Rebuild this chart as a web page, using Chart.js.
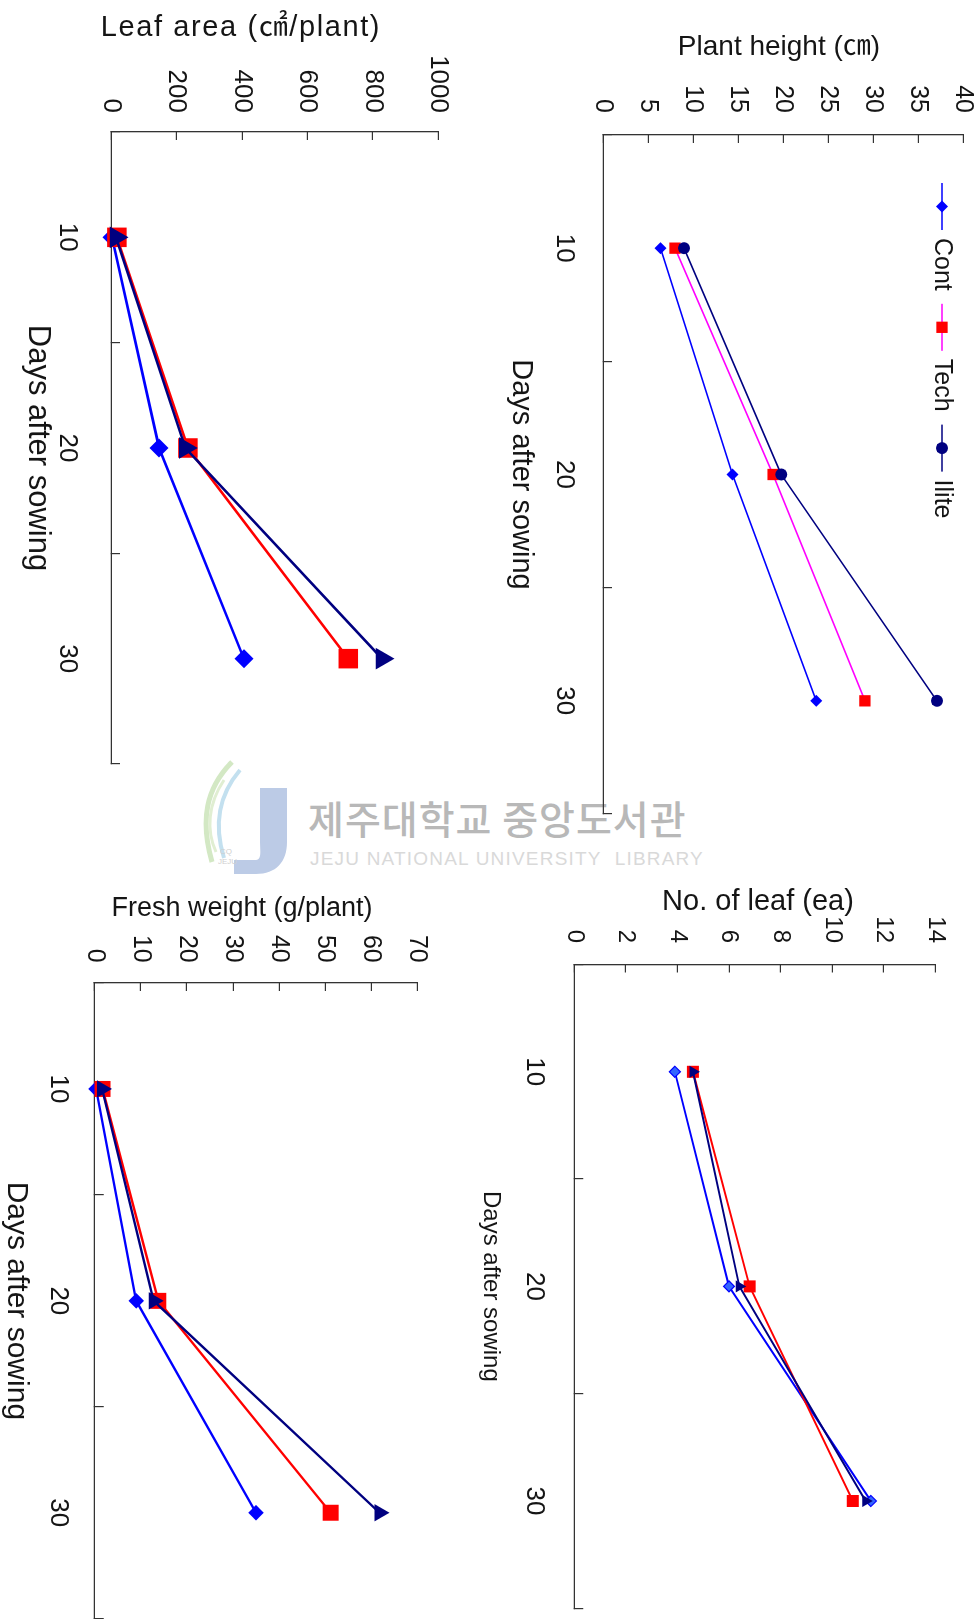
<!DOCTYPE html>
<html lang="en">
<head>
<meta charset="utf-8">
<title>Seedling growth by treatment</title>
<script src="https://cdn.jsdelivr.net/npm/chart.js@4.4.1/dist/chart.umd.min.js"></script>
<style>
  html, body { margin: 0; padding: 0; background: #fff; }
  body { position: relative; width: 980px; height: 1619px; overflow: hidden; }
  .panel { position: absolute; transform-origin: 0 0; z-index: 2; }
  .panel canvas { display: block; }
  .caption { position: absolute; z-index: 3; white-space: nowrap; transform: translate(-50%, -50%);
             font-family: 'Liberation Sans', Arial, 'Noto Sans CJK KR', sans-serif; color: #151515; line-height: 1; }
  .wm { position: absolute; z-index: 1; white-space: nowrap; line-height: 1; }
</style>
</head>
<body>

<!-- library watermark -->
<svg class="wm" style="left:198px;top:758px" width="95" height="122" viewBox="0 0 95 122">
  <path d="M34 4 C 8 30, 2 62, 14 104" stroke="#d3e8c4" stroke-width="5" fill="none"/>
  <path d="M42 12 C 20 38, 16 68, 26 100" stroke="#c3e0ef" stroke-width="4" fill="none"/>
  <path d="M26 22 C 10 46, 8 72, 18 94" stroke="#e0eed2" stroke-width="3" fill="none"/>
  <path d="M62 30 H 89 V 84 C 89 104 78 116 58 116 H 36 V 102 H 58 C 64 102 62 92 62 84 Z" fill="#bccbe6"/>
  <text x="22" y="96" font-size="8" fill="#cfcfcf" font-family="Liberation Sans">CQ</text>
  <text x="20" y="106" font-size="8" fill="#cfcfcf" font-family="Liberation Sans">JEJU</text>
</svg>
<div class="wm" style="left:308px;top:798px;font-family:'Noto Sans CJK KR',sans-serif;font-size:39px;font-weight:500;color:#b8b8b8;letter-spacing:1px">제주대학교 중앙도서관</div>
<div class="wm" style="left:310px;top:849px;font-family:'Liberation Sans',Arial,sans-serif;font-size:19px;color:#d9d9d9;letter-spacing:1.2px">JEJU NATIONAL UNIVERSITY&nbsp;&nbsp;LIBRARY</div>

<!-- value-axis captions (horizontal on the page) -->
<div class="caption" style="left:779px;top:46px;font-size:28px">Plant height (㎝)</div>
<div class="caption" style="left:241px;top:26px;font-size:29px;letter-spacing:1.6px">Leaf area (㎠/plant)</div>
<div class="caption" style="left:758px;top:900px;font-size:29px">No. of leaf (ea)</div>
<div class="caption" style="left:242px;top:907px;font-size:27px">Fresh weight (g/plant)</div>

<!-- each panel is laid out as an ordinary line chart, then turned a quarter turn clockwise -->
<div class="panel" style="left:480px;top:0;width:830px;height:500px;transform:translate(500px,0) rotate(90deg)">
  <canvas id="c-height" width="830" height="500"></canvas>
</div>
<div class="panel" style="left:0;top:0;width:780px;height:460px;transform:translate(460px,0) rotate(90deg)">
  <canvas id="c-area" width="780" height="460"></canvas>
</div>
<div class="panel" style="left:440px;top:830px;width:789px;height:540px;transform:translate(540px,0) rotate(90deg)">
  <canvas id="c-leaves" width="789" height="540"></canvas>
</div>
<div class="panel" style="left:0;top:860px;width:770px;height:440px;transform:translate(440px,0) rotate(90deg)">
  <canvas id="c-fresh" width="770" height="440"></canvas>
</div>

<script>
// ---- data ----
const days = ['10', '20', '30'];
const seriesNames = ['Cont', 'Tech', 'Ilite'];

const heightCont  = [6.4, 14.4, 23.7];
const heightTech  = [8.0, 18.9, 29.1];
const heightIlite = [9.0, 19.8, 37.1];

const leafNoCont  = [3.9, 6.0, 11.5];
const leafNoTech  = [4.6, 6.8, 10.8];
const leafNoIlite = [4.6, 6.4, 11.3];

const leafAreaCont  = [3, 147, 406];
const leafAreaTech  = [18, 235, 725];
const leafAreaIlite = [15, 227, 828];

const freshCont  = [0.3, 9.0, 35.0];
const freshTech  = [1.7, 13.8, 51.2];
const freshIlite = [1.6, 12.8, 61.8];

// value axes: [min, max, step]
const heightTicks   = [0, 40, 5];
const leafNoTicks   = [0, 14, 2];
const leafAreaTicks = [0, 1000, 200];
const freshTicks    = [0, 70, 10];

// ---- styling ----
const INK = '#151515';
const AXIS = '#333333';
const SANS = "'Liberation Sans', Arial, sans-serif";

const BLUE = '#0000FF', RED = '#FF0000', NAVY = '#000080', MAGENTA = '#FF00FF';

function markerSet(rDiamond, rSquare, rThird, thirdShape, techLine, diamondFill) {
  return [
    { line: BLUE, fill: diamondFill || BLUE, edge: BLUE, edgeW: diamondFill ? 1.2 : 0, shape: 'rectRot', r: rDiamond },
    { line: techLine || RED, fill: RED, edge: RED, edgeW: 0, shape: 'rect', r: rSquare },
    { line: NAVY, fill: NAVY, edge: NAVY, edgeW: 0, shape: thirdShape, r: rThird }
  ];
}

// legend drawn inside the plot: line stub with marker, then the name
function drawMarker(ctx, shape, x, y, r, fill) {
  ctx.beginPath();
  if (shape === 'circle') {
    ctx.arc(x, y, r, 0, Math.PI * 2);
  } else if (shape === 'rect') {
    const h = r * Math.SQRT1_2;
    ctx.rect(x - h, y - h, 2 * h, 2 * h);
  } else if (shape === 'rectRot') {
    ctx.moveTo(x - r, y); ctx.lineTo(x, y - r); ctx.lineTo(x + r, y); ctx.lineTo(x, y + r); ctx.closePath();
  } else {
    ctx.moveTo(x, y - r);
    ctx.lineTo(x + r * Math.sin(2 * Math.PI / 3), y - r * Math.cos(2 * Math.PI / 3));
    ctx.lineTo(x + r * Math.sin(4 * Math.PI / 3), y - r * Math.cos(4 * Math.PI / 3));
    ctx.closePath();
  }
  ctx.fillStyle = fill;
  ctx.fill();
}

const legendInPlot = {
  id: 'legendInPlot',
  afterDatasetsDraw(chart, args, opts) {
    if (!opts || !opts.show) return;
    const ctx = chart.ctx, area = chart.chartArea;
    let x = area.left + opts.dx;
    const y = area.top + opts.dy;
    ctx.save();
    ctx.font = opts.font;
    ctx.textBaseline = 'middle';
    chart.data.datasets.forEach(ds => {
      ctx.strokeStyle = ds.borderColor;
      ctx.lineWidth = ds.borderWidth;
      ctx.beginPath(); ctx.moveTo(x, y); ctx.lineTo(x + opts.lineLen, y); ctx.stroke();
      drawMarker(ctx, ds.pointStyle, x + opts.lineLen / 2, y, ds.pointRadius, ds.pointBackgroundColor);
      const tx = x + opts.lineLen + opts.gap;
      ctx.fillStyle = INK;
      ctx.fillText(ds.label, tx, y);
      x = tx + ctx.measureText(ds.label).width + opts.after;
    });
    ctx.restore();
  }
};

function buildChart(canvasId, cfg) {
  const datasets = cfg.series.map((values, i) => {
    const s = cfg.styles[i];
    return {
      label: seriesNames[i],
      data: values,
      borderColor: s.line,
      backgroundColor: s.fill,
      borderWidth: cfg.lineWidth,
      pointStyle: s.shape,
      pointRadius: s.r,
      pointHoverRadius: s.r,
      pointBackgroundColor: s.fill,
      pointBorderColor: s.edge,
      pointBorderWidth: s.edgeW,
      tension: 0,
      fill: false,
      clip: false,
      order: cfg.series.length - 1 - i
    };
  });

  return new Chart(document.getElementById(canvasId), {
    type: 'line',
    data: { labels: days, datasets },
    options: {
      responsive: false,
      animation: false,
      events: [],
      layout: { padding: { top: cfg.padTop, right: cfg.padRight, left: 0, bottom: 0 } },
      plugins: {
        legend: { display: false },
        tooltip: { enabled: false },
        legendInPlot: cfg.legend || { show: false }
      },
      scales: {
        x: {
          type: 'category',
          offset: true,
          grid: { offset: true, drawOnChartArea: false, drawTicks: true, tickLength: -9, color: AXIS, lineWidth: 1.2 },
          border: { display: true, color: AXIS, width: 1.3 },
          ticks: { color: INK, padding: cfg.xTickPad, font: { family: SANS, size: 26 }, maxRotation: 0, autoSkip: false },
          title: {
            display: true, text: 'Days after sowing', color: INK,
            font: cfg.xTitleFont,
            padding: { top: 0, bottom: cfg.xTitlePad }
          },
          afterFit(scale) {
            scale.height = cfg.xAxisHeight;
            scale.paddingLeft = 0; scale.paddingRight = 0;
          }
        },
        y: {
          type: 'linear',
          min: cfg.ticks[0],
          max: cfg.ticks[1],
          grid: { drawOnChartArea: false, drawTicks: true, tickLength: -8, color: AXIS, lineWidth: 1.2 },
          border: { display: true, color: AXIS, width: 1.3 },
          ticks: {
            stepSize: cfg.ticks[2], color: INK, padding: cfg.yTickPad,
            font: { family: SANS, size: cfg.yTickSize },
            callback: v => String(v)
          },
          afterFit(scale) {
            scale.width = cfg.yAxisWidth;
            scale.paddingTop = 0; scale.paddingBottom = 0;
          }
        }
      }
    },
    plugins: cfg.legend ? [legendInPlot] : []
  });
}

// Plant height
buildChart('c-height', {
  series: [heightCont, heightTech, heightIlite],
  styles: markerSet(6, 8, 6, 'circle', MAGENTA),
  lineWidth: 1.6,
  ticks: heightTicks,
  padTop: 17, padRight: 16, yAxisWidth: 135, xAxisHeight: 123,
  xTickPad: 32.2, yTickPad: 30, yTickSize: 25,
  xTitleFont: { family: SANS, size: 29, lineHeight: 1 }, xTitlePad: 26.5,
  legend: { show: true, dx: 48, dy: 21, lineLen: 47, gap: 8, after: 13, font: "25px " + SANS }
});

// Leaf area
buildChart('c-area', {
  series: [leafAreaCont, leafAreaTech, leafAreaIlite],
  styles: markerSet(9.5, 13.8, 12.5, 'triangle'),
  lineWidth: 2.6,
  ticks: leafAreaTicks,
  padTop: 21.7, padRight: 16, yAxisWidth: 132, xAxisHeight: 111,
  xTickPad: 37.7, yTickPad: 27, yTickSize: 26,
  xTitleFont: { family: SANS, size: 31, lineHeight: 1 }, xTitlePad: 22
});

// Number of leaves
buildChart('c-leaves', {
  series: [leafNoCont, leafNoTech, leafNoIlite],
  styles: markerSet(5.5, 8.5, 7, 'triangle', RED, '#3366FF'),
  lineWidth: 2,
  ticks: leafNoTicks,
  padTop: 44.7, padRight: 10.7, yAxisWidth: 134.5, xAxisHeight: 134.3,
  xTickPad: 33.5, yTickPad: 29.5, yTickSize: 24,
  xTitleFont: { family: SANS, size: 24, lineHeight: 1 }, xTitlePad: 38.8
});

// Fresh weight
buildChart('c-fresh', {
  series: [freshCont, freshTech, freshIlite],
  styles: markerSet(7.8, 11.3, 10, 'triangle'),
  lineWidth: 2.4,
  ticks: freshTicks,
  padTop: 22.7, padRight: 7, yAxisWidth: 123, xAxisHeight: 94.7,
  xTickPad: 29.8, yTickPad: 28.3, yTickSize: 25,
  xTitleFont: { family: SANS, size: 30, lineHeight: 1 }, xTitlePad: 1.7
});
</script>
</body>
</html>
